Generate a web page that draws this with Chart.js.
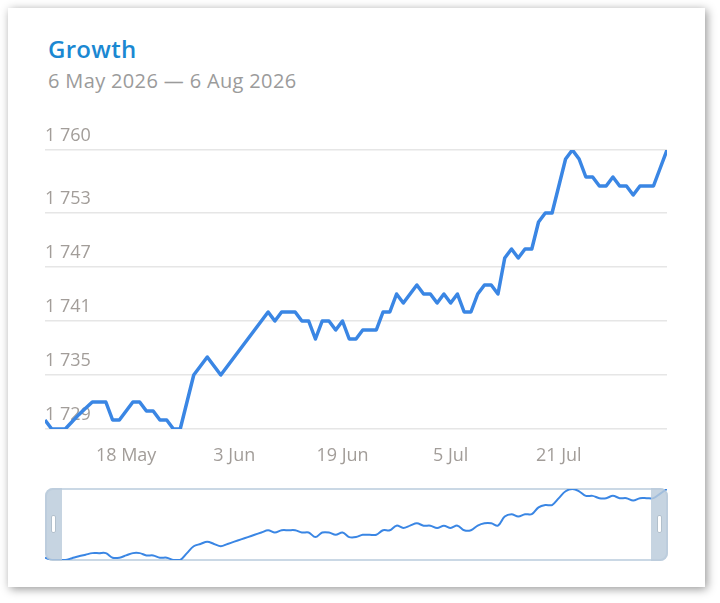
<!DOCTYPE html>
<html>
<head>
<meta charset="utf-8">
<title>Growth</title>
<script src="https://cdn.jsdelivr.net/npm/chart.js@4/dist/chart.umd.min.js"></script>
<style>
  html, body { margin: 0; padding: 0; background: #fff; }
  body { width: 720px; height: 603px; position: relative; overflow: hidden; font-family: 'Open Sans', sans-serif; }
  .card {
    position: absolute; left: 8px; top: 8px; width: 697px; height: 579px;
    background: #fff; box-shadow: 2px 2px 9px rgba(0, 0, 0, 0.42);
  }
  .title {
    position: absolute; left: 48px; top: 37px; margin: 0;
    font-size: 24px; line-height: 24px; font-weight: 600; color: #1b88d2;
    letter-spacing: 0.3px;
  }
  .subtitle {
    position: absolute; left: 48px; top: 71px; margin: 0;
    font-size: 20px; line-height: 20px; color: #9b9b9b; letter-spacing: 0.35px;
  }
  .main-wrap { position: absolute; left: 45px; top: 120px; width: 622px; height: 350px; }
  .nav-box {
    position: absolute; left: 45px; top: 488px; width: 619px; height: 69px;
    border: 2px solid #cad8e5; border-radius: 8px; background: #fff;
  }
  .nav-wrap { position: absolute; left: 45px; top: 486px; width: 622px; height: 76px; }
  .nav-handle {
    position: absolute; top: 488px; width: 17px; height: 73px;
    background: rgba(186, 203, 218, 0.82);
  }
  .nav-handle--left { left: 45px; border-radius: 8px 0 0 8px; }
  .nav-handle--right { left: 651px; border-radius: 0 8px 8px 0; }
  .nav-handle span {
    position: absolute; left: 6px; top: 27px; width: 3px; height: 16px;
    background: #fff; border: 1px solid #b2c0cc; border-radius: 2px;
  }
</style>
</head>
<body>
<div class="card"></div>
<h1 class="title">Growth</h1>
<p class="subtitle">6 May 2026 — 6 Aug 2026</p>
<div class="main-wrap"><canvas id="growth-chart"></canvas></div>
<div class="nav-box"></div>
<div class="nav-wrap"><canvas id="nav-chart"></canvas></div>
<div class="nav-handle nav-handle--left"><span></span></div>
<div class="nav-handle nav-handle--right"><span></span></div>

<script>
/* ---------- Data (daily, 6 May 2026 .. 6 Aug 2026) ---------- */
var START_DAY = [2026, 4, 6];   // year, month index, day
var DAY_COUNT = 93;

var GROWTH = [
  1730, 1729, 1729, 1729, 1729.8, 1730.6, 1731.3, 1732, 1732, 1732,
  1730, 1730, 1731, 1732, 1732, 1731, 1731, 1730, 1730, 1729,
  1729, 1732, 1735, 1736, 1737, 1736, 1735, 1736, 1737, 1738,
  1739, 1740, 1741, 1742, 1741, 1742, 1742, 1742, 1741, 1741,
  1739, 1741, 1741, 1740, 1741, 1739, 1739, 1740, 1740, 1740,
  1742, 1742, 1744, 1743, 1744, 1745, 1744, 1744, 1743, 1744,
  1743, 1744, 1742, 1742, 1744, 1745, 1745, 1744, 1748, 1749,
  1748, 1749, 1749, 1752, 1753, 1753, 1756, 1759, 1760, 1759,
  1757, 1757, 1756, 1756, 1757, 1756, 1756, 1755, 1756, 1756,
  1756, 1758, 1760
];

var X_TICKS = ['18 May', '3 Jun', '19 Jun', '5 Jul', '21 Jul'];
var Y_TICKS = [1729, 1735, 1741, 1747, 1753, 1760];
var Y_MIN = 1729;
var Y_MAX = 1760;

var MONTHS = ['Jan', 'Feb', 'Mar', 'Apr', 'May', 'Jun', 'Jul', 'Aug', 'Sep', 'Oct', 'Nov', 'Dec'];

var LINE_BLUE = '#3a86e4';
var TICK_GREY = '#a29d99';
var GRID_GREY = '#e6e6e6';

/* ---------- Helpers ---------- */
function buildCategories() {
  var out = [];
  for (var i = 0; i < DAY_COUNT; i++) {
    var d = new Date(Date.UTC(START_DAY[0], START_DAY[1], START_DAY[2] + i));
    out.push(d.getUTCDate() + ' ' + MONTHS[d.getUTCMonth()]);
  }
  return out;
}

function spaceThousands(v) {
  return String(v).replace(/\B(?=(\d{3})+(?!\d))/g, ' ');
}

var CATEGORIES = buildCategories();

Chart.defaults.font.family = "'Open Sans', sans-serif";
Chart.defaults.animation = false;

/* ---------- Main chart ---------- */
new Chart(document.getElementById('growth-chart'), {
  type: 'line',
  data: {
    labels: CATEGORIES,
    datasets: [{
      data: GROWTH,
      borderColor: LINE_BLUE,
      borderWidth: 3.5,
      borderJoinStyle: 'round',
      pointRadius: 0,
      tension: 0,
      fill: false
    }]
  },
  options: {
    responsive: true,
    maintainAspectRatio: false,
    layout: { padding: { top: 30, left: 0, right: 0, bottom: 0 } },
    plugins: { legend: { display: false }, tooltip: { enabled: false } },
    scales: {
      x: {
        offset: false,
        grid: { display: false, drawTicks: false },
        border: { display: false },
        ticks: {
          autoSkip: false,
          maxRotation: 0,
          padding: 16,
          color: TICK_GREY,
          font: { size: 18 },
          callback: function (v, i) {
            var lbl = CATEGORIES[i];
            return X_TICKS.indexOf(lbl) >= 0 ? lbl : null;
          }
        },
        afterFit: function (s) { s.height = 41; }
      },
      y: {
        min: Y_MIN,
        max: Y_MAX,
        afterBuildTicks: function (s) {
          s.ticks = Y_TICKS.map(function (v) { return { value: v }; });
        },
        grid: { color: GRID_GREY, lineWidth: 1.5, drawTicks: false },
        border: { display: false },
        ticks: {
          mirror: true,
          padding: 0,
          labelOffset: -14,
          color: TICK_GREY,
          font: { size: 18 },
          callback: function (v) { return spaceThousands(v); }
        }
      }
    }
  }
});

/* ---------- Navigator ---------- */
new Chart(document.getElementById('nav-chart'), {
  type: 'line',
  data: {
    labels: CATEGORIES,
    datasets: [{
      data: GROWTH,
      borderColor: LINE_BLUE,
      borderWidth: 2,
      pointRadius: 0,
      tension: 0.35,
      fill: false
    }]
  },
  options: {
    responsive: true,
    maintainAspectRatio: false,
    layout: { padding: { top: 3, bottom: 2, left: 0, right: 0 } },
    plugins: { legend: { display: false }, tooltip: { enabled: false } },
    scales: {
      x: { display: false, offset: false },
      y: { display: false, min: Y_MIN, max: Y_MAX }
    }
  }
});
</script>
</body>
</html>
